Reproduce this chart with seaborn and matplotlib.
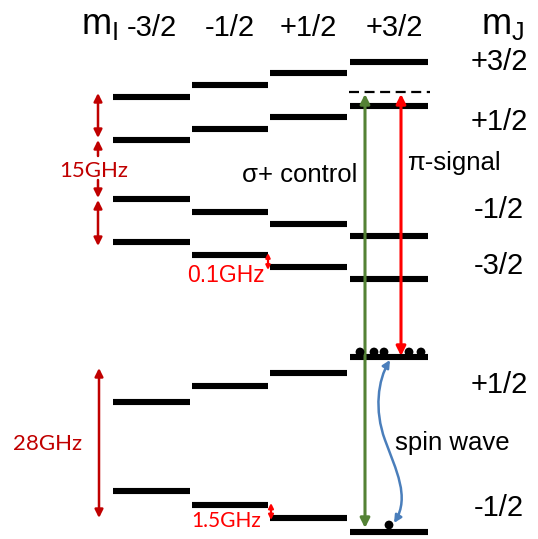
import numpy as np
import pandas as pd
import matplotlib
matplotlib.use("Agg")
import matplotlib.pyplot as plt
from matplotlib.path import Path
from matplotlib.patches import FancyArrowPatch
import seaborn as sns

sns.set_theme(style="white")
plt.rcParams["font.family"] = ["Liberation Sans", "DejaVu Sans"]

# nuclear spin projections (columns) and electronic manifolds (rows)
mI_labels = ["-3/2", "-1/2", "+1/2", "+3/2"]
mJ_upper = ["+3/2", "+1/2", "-1/2", "-3/2"]
mJ_lower = ["+1/2", "-1/2"]

# level energies per mI column (diagram units, up = higher energy)
E_up_p32 = [442, 454, 466, 477]
E_up_p12 = [399, 410, 422, 433]
E_up_m12 = [340, 327, 315, 303]
E_up_m32 = [297, 284, 272, 260]
E_lo_p12 = [137, 153, 166, 182]
E_lo_m12 = [48, 34, 21, 7]
E_virtual = 447

# ground-state populations (dots)
pop_x_upper = [360, 374, 384, 409, 421]
pop_x_lower = [389]

levels = {
    "up+3/2": E_up_p32, "up+1/2": E_up_p12, "up-1/2": E_up_m12,
    "up-3/2": E_up_m32, "lo+1/2": E_lo_p12, "lo-1/2": E_lo_m12,
}

# horizontal extent of each mI column
col_x0 = [113, 192, 270, 350]
col_x1 = [190, 268, 347, 428]

rows = []
for name, energies in levels.items():
    for i, e in enumerate(energies):
        lid = f"{name}_{i}"
        rows.append({"lid": lid, "x": col_x0[i], "E": e})
        rows.append({"lid": lid, "x": col_x1[i], "E": e})
df = pd.DataFrame(rows)

W, H = 538, 539
fig = plt.figure(figsize=(W / 100, H / 100), dpi=100)
ax = fig.add_axes([0, 0, 1, 1])
ax.set_xlim(0, W)
ax.set_ylim(0, H)
ax.axis("off")

def Y(py):
    return H - py

sns.lineplot(data=df, x="x", y="E", units="lid", estimator=None, sort=False,
             color="black", lw=4.4, solid_capstyle="butt", legend=False, ax=ax)
ax.plot([349, 430], [E_virtual, E_virtual], color="black", lw=1.6,
        ls=(0, (4.5, 2.5)))

pops = pd.DataFrame({"x": pop_x_upper + pop_x_lower,
                     "E": [E_lo_p12[3] + 5] * len(pop_x_upper) + [E_lo_m12[3] + 7]})
sns.scatterplot(data=pops, x="x", y="E", color="black", s=40, edgecolor="none",
                legend=False, ax=ax, zorder=5)

# headers
txt = dict(ha="center", va="center", color="black")
ax.text(81, Y(25), r"m$_{\mathregular{I}}$", fontsize=26, ha="left",
        va="center", color="black")
head_x = [152, 230, 308, 394]
for lab, hx in zip(mI_labels, head_x):
    ax.text(hx, Y(28), lab, fontsize=21, **txt)
ax.text(481, Y(25), r"m$_{\mathregular{J}}$", fontsize=26, ha="left",
        va="center", color="black")

right_y_up = [62, 122, 210, 266]
for lab, ry in zip(mJ_upper, right_y_up):
    ax.text(499, Y(ry), lab, fontsize=21, **txt)
right_y_lo = [385, 508]
for lab, ry in zip(mJ_lower, right_y_lo):
    ax.text(499, Y(ry), lab, fontsize=21, **txt)

dark_red = "#C00000"
red = "#FF0000"
green = "#548235"
blue = "#4A7EBB"

def arrow(x0, y0, x1, y1, color, style="<|-|>", lw=1.8, ms=12):
    ax.annotate("", xy=(x1, y1), xytext=(x0, y0),
                arrowprops=dict(arrowstyle=style, color=color, lw=lw,
                                mutation_scale=ms, shrinkA=0, shrinkB=0))

# hyperfine splittings
arrow(98, Y(93), 98, Y(138), dark_red)
arrow(98, Y(200), 98, Y(246), dark_red)
arrow(98, Y(156), 98, Y(140), dark_red, style="-|>")
arrow(98, Y(180), 98, Y(198), dark_red, style="-|>")
arrow(99, Y(368), 99, Y(518), dark_red)
ax.text(94, Y(171), "15GHz", fontsize=16, color=dark_red, ha="center",
        va="center", family=["Lato", "DejaVu Sans"])
ax.text(48, Y(444), "28GHz", fontsize=16, color=dark_red, ha="center",
        va="center", family=["Lato", "DejaVu Sans"])

arrow(268, Y(253), 268, Y(270), red, ms=6, lw=1.6)
ax.text(226, Y(276), "0.1GHz", fontsize=16.5, color=red, ha="center", va="center")
arrow(271, Y(503), 271, Y(520), red, ms=7, lw=1.6)
ax.text(226, Y(521), "1.5GHz", fontsize=15, color=red, ha="center", va="center",
        family=["Lato", "DejaVu Sans"])

# optical fields
arrow(365, Y(94), 365, Y(528), green, lw=2.2, ms=14)
ax.text(300, Y(175), "σ+ control", fontsize=18.5, **txt)
arrow(401, Y(94), 401, Y(356), red, lw=2.2, ms=14)
ax.text(454, Y(163), "π-signal", fontsize=18.5, **txt)

# spin wave coupling between lower levels
verts = [(390, Y(360)), (378, Y(380)), (374, Y(410)), (385, Y(440)),
         (396, Y(470)), (410, Y(497)), (394, Y(523))]
codes = [Path.MOVETO, Path.CURVE4, Path.CURVE4, Path.CURVE4,
         Path.CURVE4, Path.CURVE4, Path.CURVE4]
ax.add_patch(FancyArrowPatch(path=Path(verts, codes), arrowstyle="<|-|>",
                             mutation_scale=11, color=blue, lw=1.8))
ax.text(452, Y(443), "spin wave", fontsize=18.5, **txt)

fig.savefig("out.png", dpi=100)
